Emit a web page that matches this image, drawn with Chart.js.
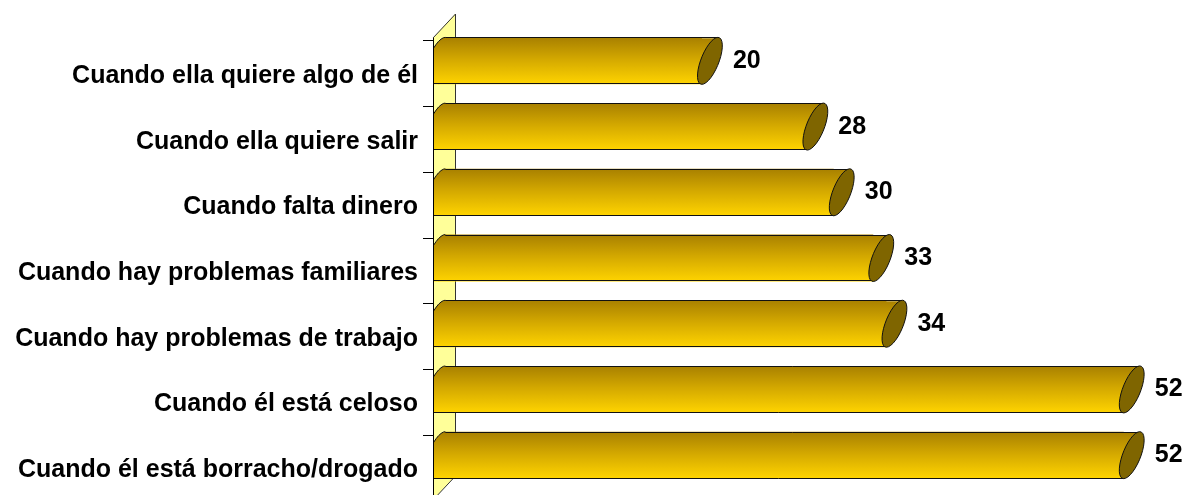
<!DOCTYPE html>
<html>
<head>
<meta charset="utf-8">
<script src="https://cdn.jsdelivr.net/npm/chart.js@4.4.1/dist/chart.umd.min.js"></script>
<style>
  html, body { margin: 0; padding: 0; background: #fff; }
  #wrap { width: 1187px; height: 495px; }
</style>
</head>
<body>
<div id="wrap"><canvas id="grafico" width="1187" height="495"></canvas></div>
<script>
// Datos del grafico
const categorias = [
    'Cuando ella quiere algo de él',
    'Cuando ella quiere salir',
    'Cuando falta dinero',
    'Cuando hay problemas familiares',
    'Cuando hay problemas de trabajo',
    'Cuando él está celoso',
    'Cuando él está borracho/drogado'
];
const valores = [20, 28, 30, 33, 34, 52, 52];
const ejeMin = -0.4;
const ejeMax = 56.8;

// Estilo 3D (pared amarilla + cilindros)
const FUENTE = 'bold 25px "Liberation Sans", Arial, sans-serif';
const COLOR_PARED = '#FFFF99';
const COLOR_TAPA = '#7F6500';
const COLOR_BORDE = '#111';
const PROF_X = 22, PROF_Y = 24;
const INCL = 8;          // inclinacion de la tapa
const TAPA_RX = 9.5;
const BAR_PCT = 0.715;

function degradado(ctx, yTop, yBot) {
    const g = ctx.createLinearGradient(0, yTop, 0, yBot);
    g.addColorStop(0, '#A88000');
    g.addColorStop(0.45, '#D2A700');
    g.addColorStop(1, '#FFD400');
    return g;
}

// elipse inclinada (tapa del cilindro)
function elipse(ctx, cx, cy, rx, ry, a0, a1) {
    ctx.save();
    ctx.transform(1, 0, -INCL / ry, 1, cx, cy);
    ctx.moveTo(rx * Math.cos(a0), ry * Math.sin(a0));
    ctx.ellipse(0, 0, rx, ry, 0, a0, a1);
    ctx.restore();
}

// zona arriba-izquierda fuera de la elipse
function esquina(ctx, cx, cy, rx, ry) {
    ctx.save();
    ctx.transform(1, 0, -INCL / ry, 1, cx, cy);
    ctx.moveTo(0, -ry - 2);
    ctx.lineTo(-40, -ry - 2);
    ctx.lineTo(-40, 0);
    ctx.lineTo(-rx, 0);
    ctx.ellipse(0, 0, rx, ry, 0, Math.PI, Math.PI * 1.5);
    ctx.closePath();
    ctx.restore();
}

const cilindros = {
    id: 'cilindros',
    beforeDatasetsDraw(chart) {
        const { ctx, chartArea: a, scales: { y } } = chart;
        const x0 = a.left, x1 = a.left + PROF_X, yp = a.top + 10;

        ctx.save();
        // pared
        ctx.beginPath();
        ctx.moveTo(x0, yp);
        ctx.lineTo(x1, yp - PROF_Y);
        ctx.lineTo(x1, a.bottom - 12);
        ctx.lineTo(x0, a.bottom + 12);
        ctx.closePath();
        ctx.fillStyle = COLOR_PARED;
        ctx.fill();
        ctx.strokeStyle = '#333';
        ctx.lineWidth = 1;
        ctx.beginPath();
        ctx.moveTo(x0, yp);
        ctx.lineTo(x1 + 0.5, yp - PROF_Y);
        ctx.lineTo(x1 + 0.5, a.bottom - 12);
        ctx.lineTo(x0, a.bottom + 12);
        ctx.stroke();

        // marcas del eje
        const paso = y.getPixelForValue(1) - y.getPixelForValue(0);
        ctx.strokeStyle = '#000';
        ctx.beginPath();
        for (let i = 0; i < categorias.length; i++) {
            const yy = Math.round(y.getPixelForValue(i) - paso / 2 + 12.4) + 0.5;
            ctx.moveTo(x0 - 10, yy);
            ctx.lineTo(x0, yy);
        }
        ctx.stroke();

        // etiquetas de categoria
        ctx.font = FUENTE;
        ctx.fillStyle = '#000';
        ctx.textAlign = 'right';
        ctx.textBaseline = 'alphabetic';
        y.getLabels().forEach((lab, i) => {
            ctx.fillText(lab, x0 - 15, y.getPixelForValue(i) + 22);
        });

        // extremo izquierdo de los cilindros
        ctx.beginPath();
        ctx.rect(a.left, 0, chart.width - a.left, chart.height);
        ctx.clip();
        chart.getDatasetMeta(0).data.forEach(el => {
            const ry = el.height / 2, top = el.y - ry, bot = el.y + ry;
            ctx.fillStyle = degradado(ctx, top, bot);
            ctx.beginPath();
            ctx.moveTo(el.base + 1, top);
            ctx.lineTo(el.base + 1, bot);
            ctx.lineTo(el.base - 2 * INCL, bot);
            ctx.closePath();
            ctx.fill();
            ctx.beginPath();
            elipse(ctx, el.base - 1, el.y, TAPA_RX, ry, 0, Math.PI * 2);
            ctx.fill();
        });
        ctx.restore();
    },
    afterDatasetsDraw(chart) {
        const { ctx, chartArea: a } = chart;
        const meta = chart.getDatasetMeta(0);
        ctx.save();
        ctx.lineWidth = 1;
        meta.data.forEach((el, i) => {
            const ry = el.height / 2, top = el.y - ry, bot = el.y + ry;
            const yT = Math.round(top) + 0.5, yB = Math.round(bot) - 0.5;

            // esquina superior izquierda: se ve la pared
            ctx.save();
            ctx.beginPath();
            ctx.rect(Math.max(a.left + 1, el.base - 0.5), top - 2, 30, ry + 2);
            ctx.clip();
            ctx.beginPath();
            esquina(ctx, el.base - 1, el.y, TAPA_RX, ry);
            ctx.fillStyle = COLOR_PARED;
            ctx.fill();
            ctx.restore();

            ctx.save();
            ctx.beginPath();
            ctx.rect(a.left, 0, chart.width - a.left, chart.height);
            ctx.clip();
            ctx.strokeStyle = COLOR_BORDE;
            ctx.beginPath();
            elipse(ctx, el.base - 1, el.y, TAPA_RX, ry, Math.PI / 2, Math.PI * 1.5);
            ctx.stroke();
            ctx.restore();

            // extremo derecho
            ctx.fillStyle = degradado(ctx, top, bot);
            ctx.beginPath();
            ctx.moveTo(el.x - 1, top + 1);
            ctx.lineTo(el.x + 2 * INCL, top + 1);
            ctx.lineTo(el.x - 1, bot - 1);
            ctx.closePath();
            ctx.fill();

            // bordes superior e inferior nitidos
            ctx.strokeStyle = COLOR_BORDE;
            ctx.beginPath();
            ctx.moveTo(el.base - 1 + INCL, yT);
            ctx.lineTo(el.x + 2 * INCL, yT);
            ctx.moveTo(a.left, yB);
            ctx.lineTo(el.x, yB);
            ctx.stroke();

            ctx.beginPath();
            elipse(ctx, el.x + INCL, el.y, TAPA_RX, ry, 0, Math.PI * 2);
            ctx.fillStyle = COLOR_TAPA;
            ctx.fill();
            ctx.stroke();

            // valor
            ctx.font = FUENTE;
            ctx.fillStyle = '#000';
            ctx.textAlign = 'left';
            ctx.textBaseline = 'alphabetic';
            ctx.fillText(String(valores[i]), el.x + 31, el.y + 7);
        });

        // linea del eje
        ctx.strokeStyle = '#000';
        ctx.beginPath();
        ctx.moveTo(a.left + 0.5, a.top + 10);
        ctx.lineTo(a.left + 0.5, chart.height);
        ctx.stroke();
        ctx.restore();
    }
};

new Chart(document.getElementById('grafico'), {
    type: 'bar',
    data: {
        labels: categorias,
        datasets: [{
            data: valores,
            backgroundColor: (c) => {
                const ch = c.chart;
                if (!ch.chartArea || c.dataIndex === undefined) return '#D2A700';
                const ys = ch.scales.y;
                const yc = ys.getPixelForValue(c.dataIndex);
                const h = (ys.getPixelForValue(1) - ys.getPixelForValue(0)) * BAR_PCT;
                return degradado(ch.ctx, yc - h / 2, yc + h / 2);
            },
            borderColor: COLOR_BORDE,
            borderWidth: 0,
            barPercentage: BAR_PCT,
            categoryPercentage: 1
        }]
    },
    options: {
        indexAxis: 'y',
        responsive: false,
        animation: false,
        devicePixelRatio: 1,
        layout: { padding: { top: 28, bottom: 7, left: 0, right: 0 } },
        plugins: {
            legend: { display: false },
            tooltip: { enabled: false }
        },
        scales: {
            x: { display: false, min: ejeMin, max: ejeMax },
            y: {
                grid: { display: false },
                border: { display: false },
                ticks: { display: false },
                afterFit(s) { s.width = 433; }
            }
        }
    },
    plugins: [cilindros]
});
</script>
</body>
</html>
